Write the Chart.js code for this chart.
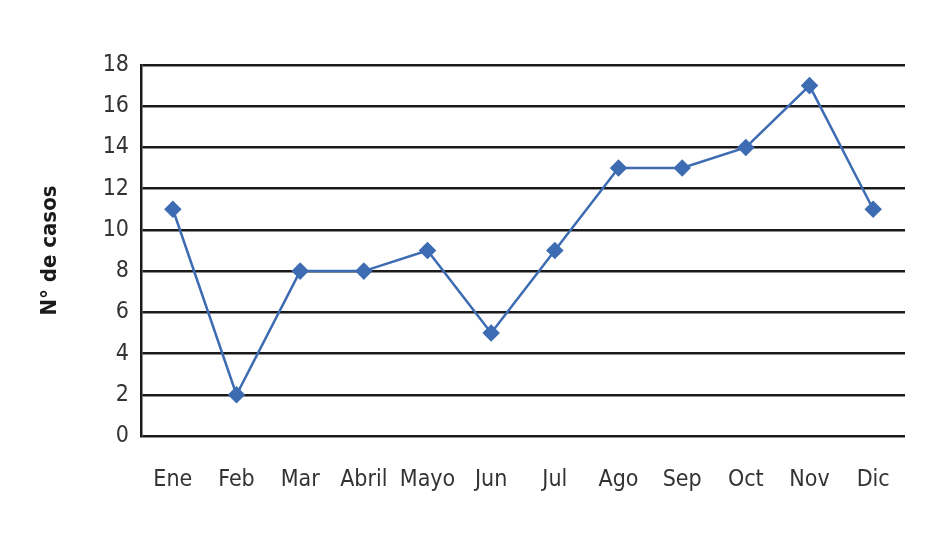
<!DOCTYPE html>
<html>
<head>
<meta charset="utf-8">
<script src="https://cdn.jsdelivr.net/npm/chart.js@4"></script>
<style>
  html, body { margin: 0; padding: 0; background: #fff; }
  #wrap { width: 945px; height: 541px; position: relative; }
</style>
</head>
<body>
<div id="wrap"><canvas id="c"></canvas></div>
<script>
// Casos por mes
const months = ["Ene", "Feb", "Mar", "Abril", "Mayo", "Jun", "Jul", "Ago", "Sep", "Oct", "Nov", "Dic"];
const cases = [11, 2, 8, 8, 9, 5, 9, 13, 13, 14, 17, 11];
const yTicks = [0, 2, 4, 6, 8, 10, 12, 14, 16, 18];

const FONT = "'Liberation Sans Narrow', 'DejaVu Sans Condensed', 'Liberation Sans', sans-serif";
const BLUE = "#3d6cb3";

new Chart(document.getElementById("c"), {
  type: "line",
  data: {
    labels: months,
    datasets: [{
      data: cases,
      borderColor: BLUE,
      backgroundColor: BLUE,
      borderWidth: 2.5,
      tension: 0,
      pointStyle: "rectRot",
      pointRadius: 7,
      pointHoverRadius: 7,
    }],
  },
  options: {
    responsive: true,
    maintainAspectRatio: false,
    animation: false,
    layout: { padding: { top: 65, right: 40, bottom: 0, left: 37 } },
    plugins: { legend: { display: false }, tooltip: { enabled: false } },
    scales: {
      x: {
        offset: true,
        grid: { display: false, drawTicks: false },
        border: { display: false },
        ticks: { color: "#333", font: { family: FONT, size: 23 }, padding: 30, maxRotation: 0, minRotation: 0, autoSkip: false },
        afterFit: (s) => { s.height = 105; },
      },
      y: {
        min: 0, max: 18,
        afterBuildTicks: (s) => { s.ticks = yTicks.map((v) => ({ value: v })); },
        grid: { color: "#1a1a1a", lineWidth: 2.5, drawTicks: false },
        border: { display: true, color: "#1a1a1a", width: 2.5 },
        ticks: { color: "#333", font: { family: FONT, size: 23 }, padding: 12 },
        title: {
          display: true, text: "N° de casos", color: "#1a1a1a",
          font: { family: FONT, size: 22, weight: "bold" }, padding: 0,
        },
        afterFit: (s) => { s.width = 104; },
      },
    },
  },
});
</script>
</body>
</html>
